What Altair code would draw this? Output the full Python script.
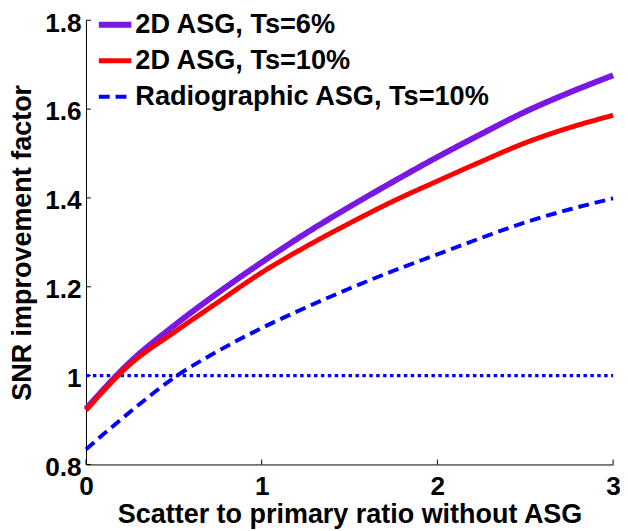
import altair as alt
import pandas as pd

# ---- data ----
x_vals = [0, 0.25, 0.5, 0.75, 1, 1.25, 1.5, 1.75, 2, 2.25, 2.5, 2.75, 3]
asg2d_ts6 = [0.925, 1.030, 1.112, 1.186, 1.255, 1.320, 1.380, 1.437, 1.492, 1.544, 1.594, 1.637, 1.676]
asg2d_ts10 = [0.922, 1.025, 1.097, 1.165, 1.232, 1.290, 1.343, 1.393, 1.438, 1.482, 1.524, 1.558, 1.586]
radio_ts10 = [0.834, 0.918, 0.995, 1.055, 1.107, 1.153, 1.196, 1.236, 1.273, 1.310, 1.345, 1.374, 1.399]

series_names = ["2D ASG, Ts=6%", "2D ASG, Ts=10%", "Radiographic ASG, Ts=10%"]
series_colors = ["#7B17E3", "#FF0000", "#0000FF"]
series_widths = [6, 4, 4]
series_dashes = [[1, 0], [1, 0], [11, 6]]

x_ticks = [0, 1, 2, 3]
y_ticks = [0.8, 1.0, 1.2, 1.4, 1.6, 1.8]
ref_level = [1.0]

W, H = 534, 450
FONT = "Liberation Sans"

rows = []
for name, ys in zip(series_names, [asg2d_ts6, asg2d_ts10, radio_ts10]):
    for i, (xv, yv) in enumerate(zip(x_vals, ys)):
        rows.append({"series": name, "x": xv, "y": yv, "idx": i})
df = pd.DataFrame(rows)

ref_df = pd.DataFrame({"y": ref_level, "x": [x_vals[0]], "x2": [x_vals[-1]]})
xt_df = pd.DataFrame({"x": x_ticks})
yt_df = pd.DataFrame({"y": y_ticks})

xscale = alt.Scale(domain=[x_ticks[0], x_ticks[-1]], nice=False, zero=False)
yscale = alt.Scale(domain=[y_ticks[0], y_ticks[-1]], nice=False, zero=False)

legend = alt.Legend(
    title=None, orient="none", legendX=10, legendY=-15, padding=0,
    symbolType="stroke", symbolSize=1089, labelFont=FONT, labelFontSize=27.5,
    labelFontWeight="bold", labelColor="black", rowPadding=4, labelOffset=1,
    labelLimit=0,
)

x_axis = alt.Axis(values=x_ticks, format="~g", title="Scatter to primary ratio without ASG",
                  labelFlush=False, labelOverlap=False, labelPadding=9, titlePadding=1)
y_axis = alt.Axis(values=y_ticks, format="~g", title="SNR improvement factor",
                  labelFlush=False, labelOverlap=False, labelPadding=5, titlePadding=8,
                  labelOffset=3)

ref = alt.Chart(ref_df).mark_rule(color="#0000FF", strokeWidth=3.5, strokeDash=[3.5, 3.5]).encode(
    y=alt.Y("y:Q", scale=yscale, axis=y_axis),
    x=alt.X("x:Q", scale=xscale, axis=x_axis),
    x2="x2:Q",
)

lines = alt.Chart(df).mark_line(interpolate="monotone").encode(
    x=alt.X("x:Q", scale=xscale, axis=x_axis),
    y=alt.Y("y:Q", scale=yscale, axis=y_axis),
    color=alt.Color("series:N", scale=alt.Scale(domain=series_names, range=series_colors), legend=legend),
    strokeWidth=alt.StrokeWidth("series:N", scale=alt.Scale(domain=series_names, range=series_widths), legend=legend),
    strokeDash=alt.StrokeDash("series:N", scale=alt.Scale(domain=series_names, range=series_dashes), legend=legend),
    order="idx:Q",
)

xticks = alt.Chart(xt_df).mark_rule(color="black", strokeWidth=1).encode(
    x=alt.X("x:Q", scale=xscale, axis=x_axis),
    y=alt.value(H), y2=alt.value(H - 5),
)
yticks = alt.Chart(yt_df).mark_rule(color="black", strokeWidth=1).encode(
    y=alt.Y("y:Q", scale=yscale, axis=y_axis),
    x=alt.value(0), x2=alt.value(5),
)

chart = alt.layer(ref, lines, xticks, yticks).properties(
    width=W, height=H,
    autosize=alt.AutoSizeParams(type="none"),
    padding={"left": 79, "top": 9, "right": 7, "bottom": 63},
    background="white",
).configure_view(strokeWidth=0).configure_axis(
    grid=False, domainColor="black", domainWidth=1, tickSize=0, ticks=False,
    labelFont=FONT, labelFontSize=26.5, labelFontWeight="bold", labelColor="black",
    titleFont=FONT, titleFontSize=27.3, titleFontWeight="bold", titleColor="black",
)

chart.save("out.html", embed_options={"renderer": "svg", "actions": False})
